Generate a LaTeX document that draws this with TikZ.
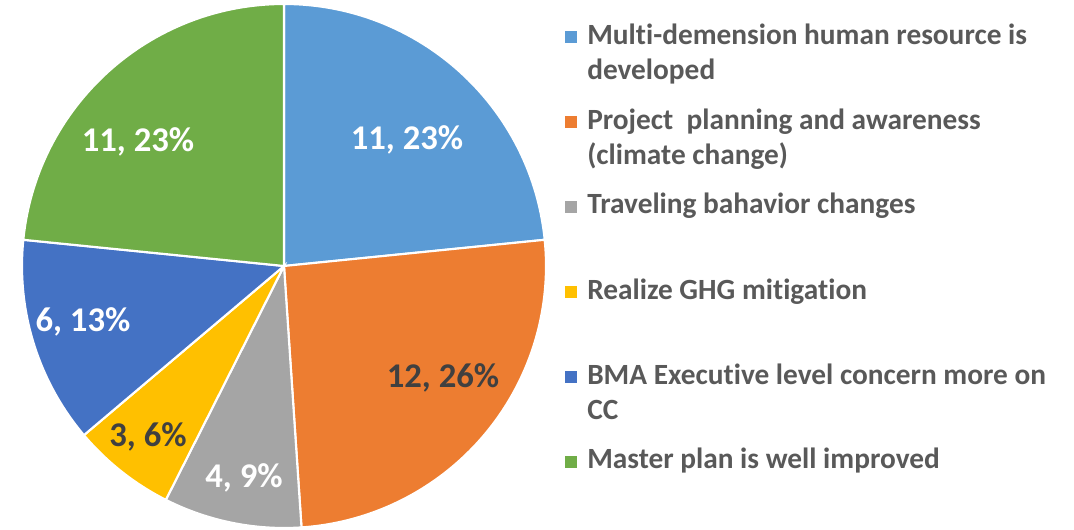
\documentclass[tikz,border=0pt]{standalone}
\usepackage{fontspec}
\setmainfont{Carlito}[Ligatures=NoCommon]
\usetikzlibrary{positioning}
\definecolor{sliceblue}{HTML}{5B9BD5}
\definecolor{sliceorange}{HTML}{ED7D31}
\definecolor{slicegray}{HTML}{A5A5A5}
\definecolor{sliceyellow}{HTML}{FFC000}
\definecolor{slicenavy}{HTML}{4472C4}
\definecolor{slicegreen}{HTML}{70AD47}
\definecolor{darktext}{HTML}{404040}
\definecolor{legendtext}{HTML}{595959}
\tikzset{
  slicelabel/.style={font=\bfseries\fontsize{26}{30}\selectfont, inner sep=0pt},
  legendkey/.style={minimum size=9pt, inner sep=0pt},
  legendentry/.style={anchor=base west, inner sep=0pt, text=legendtext,
    font=\bfseries\fontsize{22}{26}\selectfont}
}
\begin{document}
\begin{tikzpicture}[x=0.75pt,y=0.75pt]
\useasboundingbox (0,0) rectangle (1074,529);

% pie slices, clockwise from the top
\begin{scope}[shift={(284,263)}]
\foreach \a/\b/\c in {90/5.74/sliceblue, 5.74/-86.17/sliceorange,
    -86.17/-116.81/slicegray, -116.81/-139.79/sliceyellow,
    -139.79/-185.74/slicenavy, -185.74/-270/slicegreen}
  \filldraw[fill=\c, draw=white, line width=1.6pt] (0,0) -- (\a:262)
    arc[start angle=\a, end angle=\b, radius=262] -- cycle;
\end{scope}

% slice labels
\node[slicelabel, text=white] (lbl1) at (407,389) {11, 23\%};
\node[slicelabel, text=darktext] (lbl2) at (443,151) {12, 26\%};
\node[slicelabel, text=white] (lbl3) at (244,51) {4, 9\%};
\node[slicelabel, text=darktext] (lbl4) at (148,92) {3, 6\%};
\node[slicelabel, text=white] (lbl5) at (83,207) {6, 13\%};
\node[slicelabel, text=white] (lbl6) at (138,387) {11, 23\%};

% legend
\node[legendkey, fill=sliceblue] (key1) at (571,492) {};
\node[legendkey, fill=sliceorange] (key2) at (571,407) {};
\node[legendkey, fill=slicegray] (key3) at (571,322) {};
\node[legendkey, fill=sliceyellow] (key4) at (571,237) {};
\node[legendkey, fill=slicenavy] (key5) at (571,152) {};
\node[legendkey, fill=slicegreen] (key6) at (571,67) {};

\node[legendentry] (ent1a) at (587,484) {Multi-demension human resource is};
\node[legendentry] (ent1b) at (587,449) {developed};
\node[legendentry] (ent2a) at (587,399) {Project~ planning and awareness};
\node[legendentry] (ent2b) at (587,364) {(climate change)};
\node[legendentry] (ent3) at (587,315) {Traveling bahavior changes};
\node[legendentry] (ent4) at (587,229) {Realize GHG mitigation};
\node[legendentry] (ent5a) at (587,145) {BMA Executive level concern more on};
\node[legendentry] (ent5b) at (587,110) {CC};
\node[legendentry] (ent6) at (587,61) {Master plan is well improved};
\end{tikzpicture}
\end{document}
